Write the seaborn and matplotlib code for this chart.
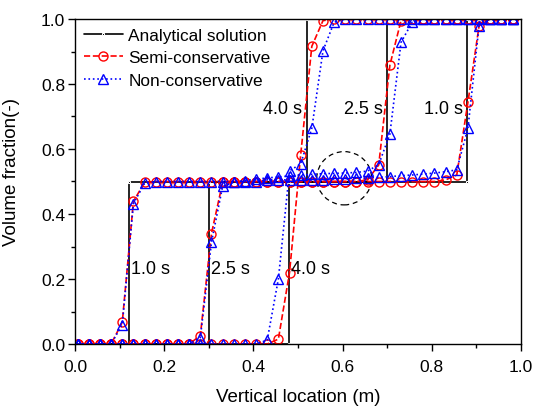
import numpy as np
import pandas as pd
import matplotlib
matplotlib.use("Agg")
import matplotlib.pyplot as plt
from matplotlib.patches import Ellipse
from matplotlib.ticker import MultipleLocator, FormatStrFormatter
import seaborn as sns

# ---- data -------------------------------------------------------------
# cell positions (m) at which the numerical profiles are sampled
x_cells = [0.006, 0.031, 0.056, 0.081, 0.106, 0.131, 0.156, 0.181, 0.206, 0.231,
           0.256, 0.281, 0.306, 0.331, 0.356, 0.381, 0.406, 0.431, 0.456, 0.481,
           0.506, 0.531, 0.556, 0.581, 0.606, 0.631, 0.656, 0.681, 0.706, 0.731,
           0.756, 0.781, 0.806, 0.831, 0.856, 0.881, 0.906, 0.931, 0.956, 0.981]

# semi-conservative scheme
semi_1s = [0, 0, 0, 0, 0.067, 0.439, 0.497,
           0.5, 0.5, 0.5, 0.5, 0.5, 0.5, 0.5, 0.5, 0.5, 0.5, 0.5, 0.5, 0.5,
           0.5, 0.5, 0.5, 0.5, 0.5, 0.5, 0.5, 0.5, 0.5, 0.5, 0.5, 0.5, 0.5,
           0.505, 0.52, 0.744, 0.979, 1.0, 1.0, 1.0]
semi_25s = [0, 0, 0, 0, 0, 0, 0, 0, 0, 0, 0, 0.026, 0.34, 0.497,
            0.5, 0.5, 0.5, 0.5, 0.5, 0.5, 0.5, 0.5, 0.5, 0.5, 0.5, 0.5,
            0.505, 0.551, 0.858, 0.995,
            1.0, 1.0, 1.0, 1.0, 1.0, 1.0, 1.0, 1.0, 1.0, 1.0]
semi_4s = [0, 0, 0, 0, 0, 0, 0, 0, 0, 0, 0, 0, 0, 0, 0, 0, 0, 0,
           0.015, 0.22, 0.582, 0.916, 0.995,
           1.0, 1.0, 1.0, 1.0, 1.0, 1.0, 1.0, 1.0, 1.0, 1.0, 1.0, 1.0, 1.0, 1.0, 1.0, 1.0, 1.0]

# non-conservative scheme
non_1s = [0, 0, 0, 0, 0.06, 0.432, 0.494,
          0.5, 0.5, 0.5, 0.5, 0.5, 0.5, 0.5, 0.5, 0.5, 0.5,
          0.505, 0.505, 0.505, 0.505, 0.505, 0.505,
          0.508, 0.509, 0.51, 0.511,
          0.513, 0.515, 0.518, 0.52, 0.523, 0.526, 0.53, 0.536,
          0.664, 0.98, 1.0, 1.0, 1.0]
non_25s = [0, 0, 0, 0, 0, 0, 0, 0, 0, 0, 0,
           0.02, 0.313, 0.485, 0.498, 0.503, 0.507, 0.511, 0.514, 0.517,
           0.52, 0.522, 0.524, 0.525, 0.526, 0.528, 0.532, 0.552, 0.646, 0.928, 0.99,
           1.0, 1.0, 1.0, 1.0, 1.0, 1.0, 1.0, 1.0, 1.0]
non_4s = [0, 0, 0, 0, 0, 0, 0, 0, 0, 0, 0, 0, 0, 0, 0, 0, 0,
          0.012, 0.20, 0.533, 0.554, 0.664, 0.902, 0.99,
          1.0, 1.0, 1.0, 1.0, 1.0, 1.0, 1.0, 1.0, 1.0, 1.0, 1.0, 1.0, 1.0, 1.0, 1.0, 1.0]

# analytical step profiles: lower and upper interface positions (m)
times = ["1.0 s", "2.5 s", "4.0 s"]
lower_front = [0.12, 0.30, 0.48]
upper_front = [0.88, 0.70, 0.52]
step_levels = [0.0, 0.5, 1.0]

# ---- figure -----------------------------------------------------------
sns.set_style("ticks")
plt.rcParams["font.family"] = ["Liberation Sans", "DejaVu Sans"]
plt.rcParams["axes.linewidth"] = 1.0
plt.rcParams["text.color"] = "black"
plt.rcParams["axes.labelcolor"] = "black"
plt.rcParams["xtick.color"] = "black"
plt.rcParams["ytick.color"] = "black"

fig = plt.figure(figsize=(5.36, 4.10), dpi=100)
ax = fig.add_axes([75 / 536, 1 - 345 / 410, 446 / 536, 325 / 410])

# analytical solution
for i, (lo, up) in enumerate(zip(lower_front, upper_front)):
    xs = [0.0, lo, lo, up, up, 1.0]
    ys = [step_levels[0], step_levels[0], step_levels[1],
          step_levels[1], step_levels[2], step_levels[2]]
    sns.lineplot(x=xs, y=ys, ax=ax, sort=False, estimator=None,
                 color="black", linewidth=1.2, marker="s", markersize=2,
                 label="Analytical solution" if i == 0 else None, legend=False)

semi_curves = [semi_1s, semi_25s, semi_4s]
non_curves = [non_1s, non_25s, non_4s]

for i, ys in enumerate(semi_curves):
    sns.lineplot(x=x_cells, y=ys, ax=ax, sort=False, estimator=None,
                 color="#ff0000", linestyle="--", linewidth=1.2,
                 marker="o", markersize=6.5, markerfacecolor="none",
                 markeredgecolor="#ff0000", markeredgewidth=1.0,
                 label="Semi-conservative" if i == 0 else None, legend=False)

for i, ys in enumerate(non_curves):
    sns.lineplot(x=x_cells, y=ys, ax=ax, sort=False, estimator=None,
                 color="#0000ff", linestyle=":", linewidth=1.2,
                 marker="^", markersize=6.5, markerfacecolor="none",
                 markeredgecolor="#0000ff", markeredgewidth=1.0,
                 label="Non-conservative" if i == 0 else None, legend=False)

# time labels beside each front
for t, lo, up in zip(times, lower_front, upper_front):
    ax.text(up - 0.01, 0.726, t, ha="right", va="center", fontsize=13)
    ax.text(lo + 0.005, 0.231, t, ha="left", va="center", fontsize=13)

# highlighted region on the middle plateau
ax.add_patch(Ellipse((0.6036, 0.51), 0.123, 0.164, fill=False,
                     edgecolor="black", linestyle=(0, (4, 3)), linewidth=0.9))

ax.set_xlim(0, 1.0)
ax.set_ylim(0, 1.0)
ax.xaxis.set_major_locator(MultipleLocator(0.2))
ax.xaxis.set_minor_locator(MultipleLocator(0.1))
ax.yaxis.set_major_locator(MultipleLocator(0.2))
ax.yaxis.set_minor_locator(MultipleLocator(0.1))
ax.xaxis.set_major_formatter(FormatStrFormatter("%.1f"))
ax.yaxis.set_major_formatter(FormatStrFormatter("%.1f"))
ax.tick_params(which="major", direction="out", length=5, width=1.0,
               labelsize=12.5, pad=2, colors="black")
ax.tick_params(axis="x", which="major", pad=5.5)
ax.tick_params(which="minor", direction="out", length=3, width=1.0, colors="black")
for s in ax.spines.values():
    s.set_visible(True)
    s.set_color("black")
    s.set_linewidth(1.0)

ax.set_xlabel("Vertical location (m)", fontsize=13.5)
ax.set_ylabel("Volume fraction(-)", fontsize=13.5)
ax.xaxis.set_label_coords(0.5, -0.135)
ax.yaxis.set_label_coords(-0.123, 0.532)

ax.legend(loc="upper left", frameon=False, fontsize=12.4,
          handlelength=2.3, handletextpad=0.3, labelspacing=0.44,
          borderaxespad=0.2, borderpad=0.3)

fig.savefig("out.png", dpi=100)
